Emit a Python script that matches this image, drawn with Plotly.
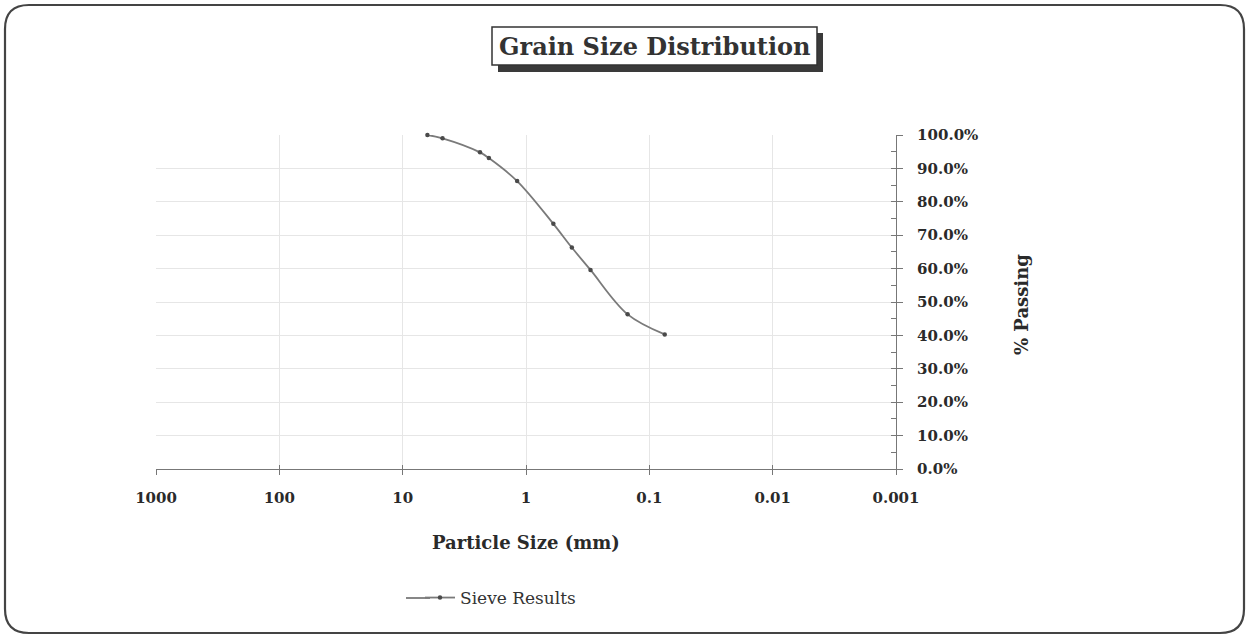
import plotly.graph_objects as go

# ---- data ----
sieve_mm = [6.3, 4.75, 2.36, 2.0, 1.18, 0.6, 0.425, 0.3, 0.15, 0.075]
passing = [1.000, 0.990, 0.948, 0.931, 0.862, 0.734, 0.663, 0.596, 0.463, 0.403]
x_tickvals = [1000, 100, 10, 1, 0.1, 0.01, 0.001]
x_ticktext = ["1000", "100", "10", "1", "0.1", "0.01", "0.001"]
y_tickvals = [0, 0.1, 0.2, 0.3, 0.4, 0.5, 0.6, 0.7, 0.8, 0.9, 1.0]

W, H = 1249, 637
L, R, T, B = 156, 896, 135, 469
PW, PH = R - L, B - T


def xp(px):
    return (px - L) / PW


def yp(py):
    return (B - py) / PH


FONT = "DejaVu Serif"
TXT = "#2a2a2a"

fig = go.Figure()
fig.add_trace(go.Scatter(
    x=sieve_mm, y=passing, mode="lines+markers", name="Sieve Results",
    line=dict(color="#7a7a7a", width=1.8, shape="spline", smoothing=1.0),
    marker=dict(color="#4a4a4a", size=4.5), cliponaxis=False,
))
# invisible trace on overlay axes to show crossing ticks
fig.add_trace(go.Scatter(x=[sieve_mm[0]], y=[passing[0]], xaxis="x2", yaxis="y2",
                         mode="markers", marker=dict(opacity=0), showlegend=False,
                         hoverinfo="skip"))

# outer rounded border path (pixel -> paper)
x0, y0, x1, y1, r = 5, 5, 1244, 633, 24
def P(x, y):
    return f"{xp(x):.5f},{yp(y):.5f}"
path = (f"M {P(x0 + r, y0)} L {P(x1 - r, y0)} Q {P(x1, y0)} {P(x1, y0 + r)} "
        f"L {P(x1, y1 - r)} Q {P(x1, y1)} {P(x1 - r, y1)} "
        f"L {P(x0 + r, y1)} Q {P(x0, y1)} {P(x0, y1 - r)} "
        f"L {P(x0, y0 + r)} Q {P(x0, y0)} {P(x0 + r, y0)} Z")

shapes = [
    dict(type="path", xref="paper", yref="paper", path=path,
         line=dict(color="#444444", width=2.2), fillcolor="rgba(0,0,0,0)", layer="below"),
    # title shadow
    dict(type="rect", xref="paper", yref="paper", x0=xp(498), x1=xp(823), y0=yp(33), y1=yp(72),
         fillcolor="#3a3a3a", line=dict(width=0)),
    # title box
    dict(type="rect", xref="paper", yref="paper", x0=xp(492), x1=xp(817), y0=yp(27), y1=yp(65),
         fillcolor="white", line=dict(color="#333333", width=1.5)),
    # legend line extension (legend sample is longer in the original)
    dict(type="line", xref="paper", yref="paper", x0=xp(406), x1=xp(430), y0=yp(598), y1=yp(598),
         line=dict(color="#7a7a7a", width=1.8)),
]

annotations = [
    dict(text="<b>Grain Size Distribution</b>", x=xp(655), y=yp(46.5), xref="paper", yref="paper",
         showarrow=False, font=dict(family=FONT, size=24, color="#333333"), xanchor="center", yanchor="middle"),
    dict(text="<b>Particle Size (mm)</b>", x=xp(526), y=yp(542), xref="paper", yref="paper",
         showarrow=False, font=dict(family=FONT, size=18, color="#2a2a2a"), xanchor="center", yanchor="middle"),
    dict(text="<b>% Passing</b>", x=xp(1021), y=yp(305), xref="paper", yref="paper", textangle=-90,
         showarrow=False, font=dict(family=FONT, size=18, color="#2a2a2a"), xanchor="center", yanchor="middle"),
]

fig.update_layout(
    width=W, height=H,
    margin=dict(l=L, r=W - R, t=T, b=H - B, pad=0),
    paper_bgcolor="white", plot_bgcolor="white",
    font=dict(family=FONT, color=TXT),
    showlegend=True,
    legend=dict(x=xp(420), y=yp(598), xanchor="left", yanchor="middle", orientation="h",
                font=dict(family=FONT, size=17, color="#333333"), bgcolor="rgba(0,0,0,0)"),
    xaxis=dict(type="log", range=[3, -3], tickvals=x_tickvals, ticktext=x_ticktext,
               showgrid=True, gridcolor="#e6e6e6", gridwidth=1,
               showline=True, linecolor="#777777", linewidth=1.2,
               ticks="outside", ticklen=5, tickcolor="#777777",
               tickfont=dict(family=FONT, size=15, color="#2a2a2a", weight="bold"),
               ticklabelstandoff=10, zeroline=False),
    yaxis=dict(range=[0, 1], side="right", tickvals=y_tickvals, tickformat=".1%",
               showgrid=True, gridcolor="#e6e6e6", gridwidth=1,
               showline=True, linecolor="#777777", linewidth=1.2,
               ticks="outside", ticklen=6, tickcolor="#777777",
               tickfont=dict(family=FONT, size=15, color="#2a2a2a", weight="bold"),
               ticklabelstandoff=11, zeroline=False),
    xaxis2=dict(type="log", range=[3, -3], overlaying="x", side="bottom", tickvals=x_tickvals,
                showticklabels=False, showgrid=False, ticks="inside", ticklen=4,
                tickcolor="#777777", zeroline=False),
    yaxis2=dict(range=[0, 1], overlaying="y", side="right", dtick=0.05, tick0=0,
                showticklabels=False, showgrid=False, ticks="inside", ticklen=5,
                tickcolor="#777777", zeroline=False),
    shapes=shapes, annotations=annotations,
)

fig.write_html("out.html")
